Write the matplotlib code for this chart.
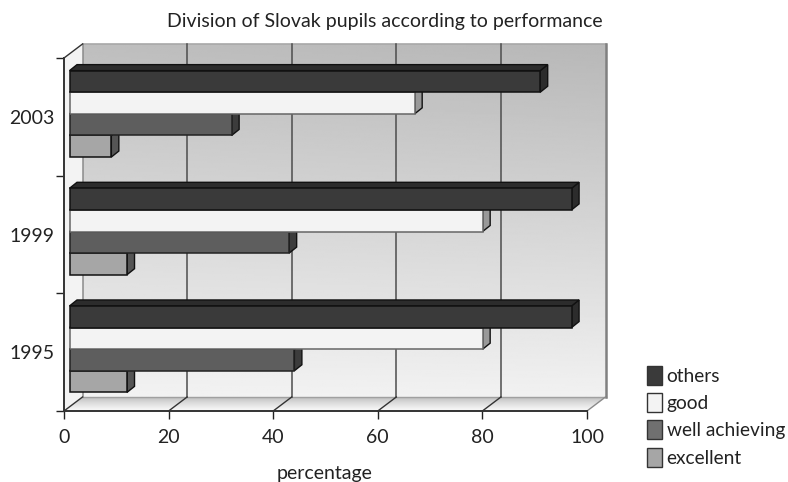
import numpy as np
import matplotlib
matplotlib.use('Agg')
import matplotlib.pyplot as plt
from matplotlib.patches import Patch, Polygon

years = ["1995", "1999", "2003"]
series_names = ["excellent", "well achieving", "good", "others"]
excellent = [11, 11, 8]
well_achieving = [43, 42, 31]
good = [79, 79, 66]
others = [96, 96, 90]
x_ticks = [0, 20, 40, 60, 80, 100]

W, H = 788, 482
plt.rcParams['font.family'] = ['Lato', 'DejaVu Sans']
fig = plt.figure(figsize=(W / 100, H / 100), dpi=100)

# front plane of the fake 3d box, in pixels
left, right, top, bottom = 64, 587, 58, 411
ax = fig.add_axes([left / W, 1 - bottom / H, (right - left) / W, (bottom - top) / H])
ax.patch.set_visible(False)

px = 100 / (right - left)
py = 3 / (bottom - top)
wx, wy = 18.5 * px, 14 * py      # wall depth
ox, oy = 5.5 * px, 3 * py        # where bars start in the depth
bx, by = 7.5 * px, 6 * py        # bar depth
bar_h = 21.6 * py

# back wall, dark at top right, light at bottom left
XX, YY = np.meshgrid(np.linspace(0, 1, 200), np.linspace(0, 1, 200))
wall = 0.745 + 0.205 * YY - 0.025 * XX + 0.02 * XX * YY
im = ax.imshow(wall, extent=[wx, 100 + wx, -0.5 + wy, 2.5 + wy], origin='upper', cmap='gray',
               vmin=0, vmax=1, aspect='auto', zorder=1, interpolation='bilinear')
im.set_clip_box(fig.bbox)

# floor, dark at the back
floor_pts = [(0, -0.5), (wx, -0.5 + wy), (100 + wx, -0.5 + wy), (100, -0.5)]
floor_im = ax.imshow(0.72 + 0.26 * np.linspace(0, 1, 100)[:, None] ** 0.7,
                     extent=[0, 100 + wx, -0.5, -0.5 + wy], origin='upper', cmap='gray',
                     vmin=0, vmax=1, aspect='auto', zorder=1.2, interpolation='bilinear')
floor_poly = Polygon(floor_pts, closed=True, transform=ax.transData, fc='none', ec='none')
ax.add_patch(floor_poly)
floor_im.set_clip_path(floor_poly)
floor_im.set_clip_box(fig.bbox)
ax.set_xlim(0, 100)
ax.set_ylim(-0.5, 2.5)

# left side wall
ax.add_patch(Polygon([(0, -0.5), (wx, -0.5 + wy), (wx, 2.5 + wy), (0, 2.5)], fc='#f3f3f3', ec='none',
                     zorder=1.1, clip_on=False))

# wall frame and grid
ax.plot([wx, 100 + wx], [2.5 + wy, 2.5 + wy], color='#a8a8a8', lw=1.2, zorder=1.4, clip_on=False)
ax.plot([wx, 100 + wx], [-0.5 + wy, -0.5 + wy], color='#a0a0a0', lw=1, zorder=1.4, clip_on=False)
ax.plot([100 + wx, 100 + wx], [-0.5 + wy, 2.5 + wy], color='#808080', lw=1.8, zorder=1.4, clip_on=False)
for t in x_ticks[:-1]:
    c = '#8a8a8a' if t == 0 else '#4d4d4d'
    ax.plot([t + wx, t + wx], [-0.5 + wy, 2.5 + wy], color=c, lw=1.1, zorder=1.5, clip_on=False)
    ax.plot([t, t + wx], [-0.5, -0.5 + wy], color='#333333', lw=1, zorder=1.5, clip_on=False)
ax.plot([100, 100 + wx], [-0.5, -0.5 + wy], color='#8a8a8a', lw=1, zorder=1.5, clip_on=False)
ax.plot([0, wx], [2.5, 2.5 + wy], color='#333333', lw=1, zorder=1.5, clip_on=False)

# bars, lowest one first so the upper ones cover the side faces
values = [excellent, well_achieving, good, others]
face_cols = ['#a6a6a6', '#5e5e5e', '#f3f3f3', '#3a3a3a']
side_cols = ['#555555', '#3c3c3c', '#999999', '#2c2c2c']
edge_cols = ['#111111', '#222222', '#666666', '#111111']
for i, (vals, fc, sc, ec) in enumerate(zip(values, face_cols, side_cols, edge_cols)):
    z = 3 + i
    for j, v in enumerate(vals):
        y0 = j + oy + (i - 2) * bar_h
        x0 = ox
        x1 = ox + v
        y1 = y0 + bar_h
        ax.add_patch(Polygon([(x1, y0), (x1 + bx, y0 + by), (x1 + bx, y1 + by), (x1, y1)],
                             fc=sc, ec='#111111', lw=1, zorder=z, clip_on=False))
        ax.add_patch(Polygon([(x0, y1), (x0 + bx, y1 + by), (x1 + bx, y1 + by), (x1, y1)],
                             fc=sc, ec='#111111', lw=1, zorder=z, clip_on=False))
        ax.barh(y0 + bar_h / 2, v, height=bar_h, left=ox, color=fc, edgecolor=ec, lw=1.1,
                zorder=z + 0.5, clip_on=False)

for s in ['top', 'right']:
    ax.spines[s].set_visible(False)
for s in ['left', 'bottom']:
    ax.spines[s].set_color('#333333')
    ax.spines[s].set_linewidth(1.4)
    ax.spines[s].set_zorder(10)

ax.set_xticks(x_ticks)
ax.set_yticks([-0.5, 0.5, 1.5, 2.5])
ax.set_yticklabels([])
ax.set_yticks([0, 1, 2], minor=True)
ax.set_yticklabels(years, minor=True)
ax.tick_params(axis='y', which='major', length=6, width=1, color='#222222')
ax.tick_params(axis='y', which='minor', length=0, pad=7, labelsize=14, labelcolor='#222222')
ax.tick_params(axis='x', length=6, width=1, color='#222222', labelsize=14, labelcolor='#222222', pad=7)
ax.set_xlabel("percentage", fontsize=14, color='#222222')
ax.xaxis.set_label_coords((325 - left) / (right - left), -(473 - bottom) / (bottom - top))
ax.xaxis.label.set_va('center')
fig.text(385 / W, 1 - 22 / H, "Division of Slovak pupils according to performance",
         ha='center', va='center', fontsize=14, color='#222222')

# legend, top entry is the last series
handles = [Patch(fc=fc, ec='#333333', lw=1) for fc in face_cols[::-1]]
handles[2] = Patch(fc='#707070', ec='#333333', lw=1)
leg = fig.legend(handles, series_names[::-1], loc='upper left', bbox_to_anchor=(643 / W, 1 - 362 / H),
                 frameon=False, fontsize=13.8, handlelength=0.78, handleheight=1.13, handletextpad=0.25,
                 labelspacing=0.44, borderpad=0.2, borderaxespad=0, labelcolor='#222222')

fig.savefig("out.png", dpi=100)
plt.close(fig)
